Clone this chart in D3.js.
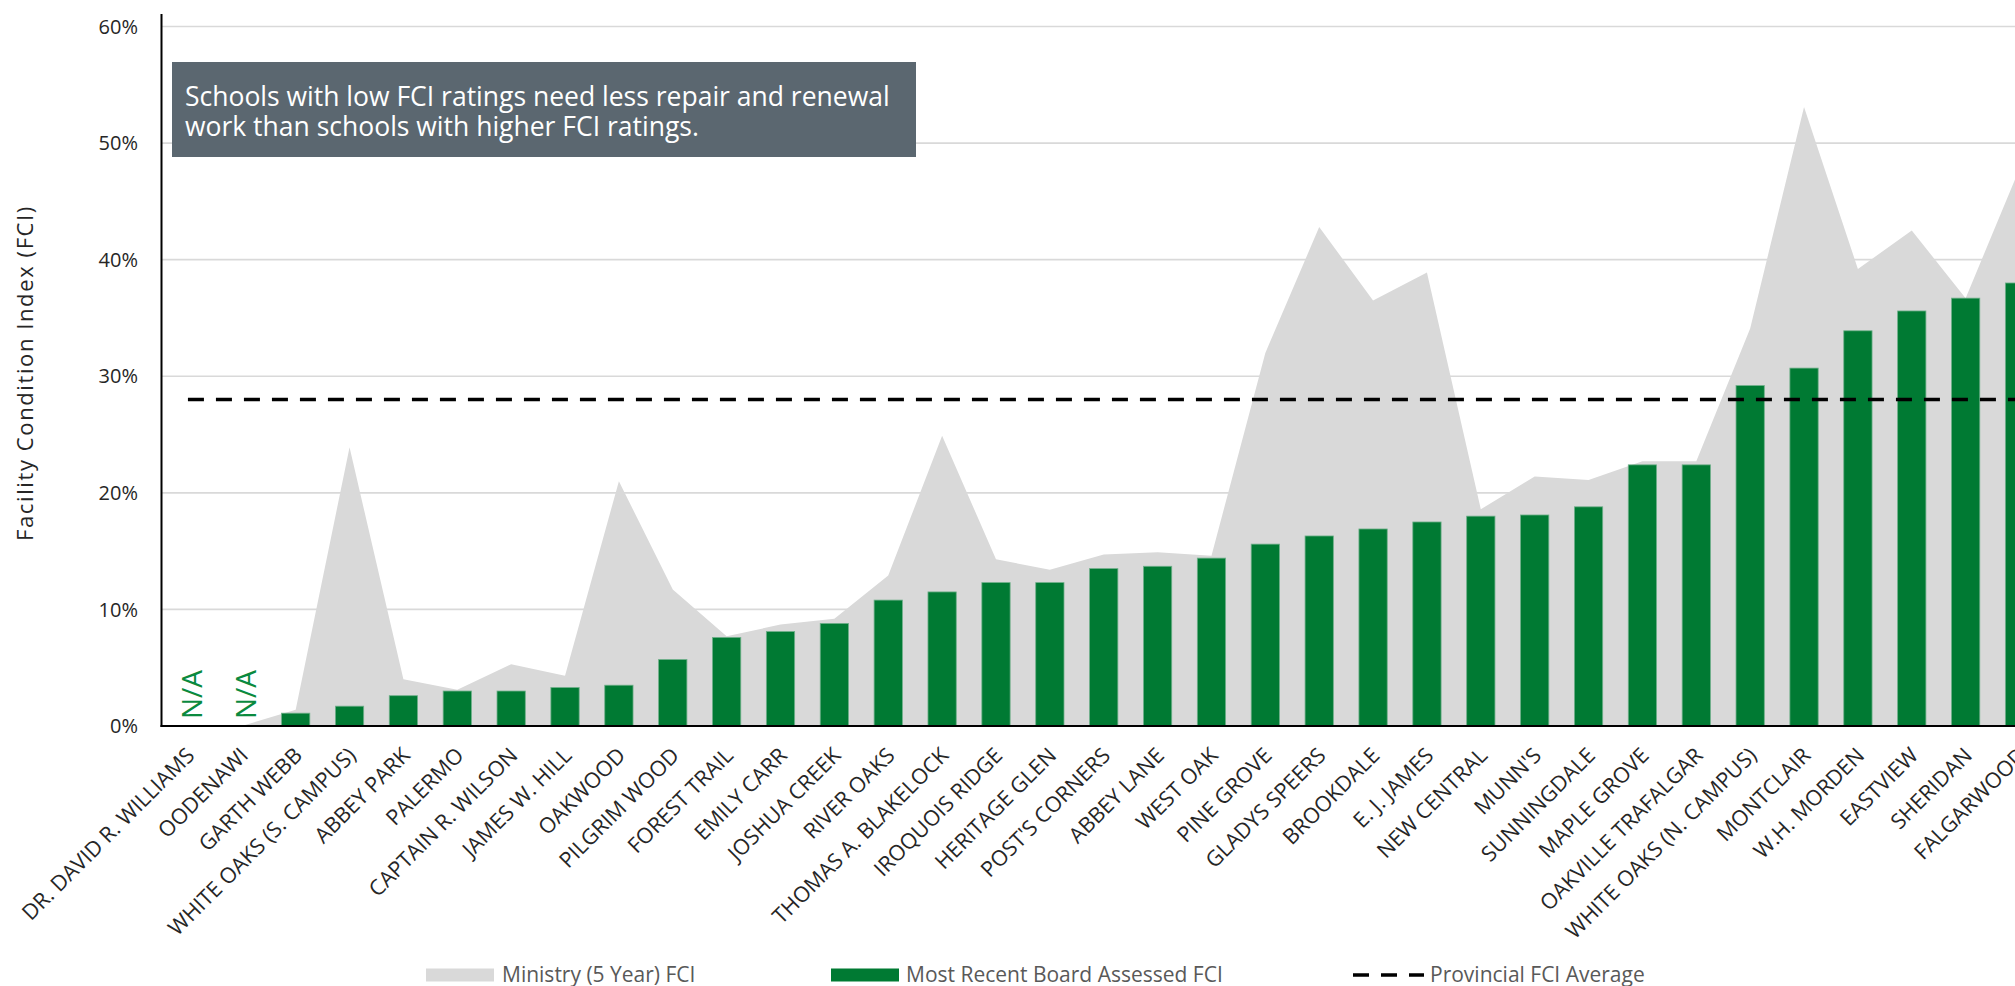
<!DOCTYPE html>
<html>
<head>
<meta charset="utf-8">
<script src="https://cdn.jsdelivr.net/npm/d3@7/dist/d3.min.js"></script>
<style>
  html, body { margin: 0; padding: 0; background: #fff; }
  svg { display: block; font-family: "Open Sans", sans-serif; }
</style>
</head>
<body>
<svg id="chart" width="2015" height="986"></svg>
<script>
// ---------------- DATA ----------------
const schools = [
  "DR. DAVID R. WILLIAMS", "OODENAWI", "GARTH WEBB", "WHITE OAKS (S. CAMPUS)", "ABBEY PARK",
  "PALERMO", "CAPTAIN R. WILSON", "JAMES W. HILL", "OAKWOOD", "PILGRIM WOOD",
  "FOREST TRAIL", "EMILY CARR", "JOSHUA CREEK", "RIVER OAKS", "THOMAS A. BLAKELOCK",
  "IROQUOIS RIDGE", "HERITAGE GLEN", "POST'S CORNERS", "ABBEY LANE", "WEST OAK",
  "PINE GROVE", "GLADYS SPEERS", "BROOKDALE", "E. J. JAMES", "NEW CENTRAL",
  "MUNN'S", "SUNNINGDALE", "MAPLE GROVE", "OAKVILLE TRAFALGAR", "WHITE OAKS (N. CAMPUS)",
  "MONTCLAIR", "W.H. MORDEN", "EASTVIEW", "SHERIDAN", "FALGARWOOD"
];
// Ministry (5 Year) FCI, percent (null = not available, plotted as zero like the source)
const ministryFCI = [
  null, null, 1.4, 23.9, 4.0,
  3.1, 5.3, 4.3, 21.0, 11.7,
  7.7, 8.7, 9.2, 12.9, 24.9,
  14.3, 13.4, 14.7, 14.9, 14.6,
  32.0, 42.8, 36.5, 38.9, 18.6,
  21.4, 21.1, 22.7, 22.7, 34.1,
  53.1, 39.2, 42.5, 36.7, 47.8
];
// Most Recent Board Assessed FCI, percent (null = N/A)
const boardFCI = [
  null, null, 1.1, 1.7, 2.6,
  3.0, 3.0, 3.3, 3.5, 5.7,
  7.6, 8.1, 8.8, 10.8, 11.5,
  12.3, 12.3, 13.5, 13.7, 14.4,
  15.6, 16.3, 16.9, 17.5, 18.0,
  18.1, 18.8, 22.4, 22.4, 29.2,
  30.7, 33.9, 35.6, 36.7, 38.0
];
const provincialAverage = 28;
const yTicks = [0, 10, 20, 30, 40, 50, 60];
const legendLabels = ["Ministry (5 Year) FCI", "Most Recent Board Assessed FCI", "Provincial FCI Average"];
const yAxisTitle = "Facility Condition Index (FCI)";
const noteLines = [
  "Schools with low FCI ratings need less repair and renewal",
  "work than schools with higher FCI ratings."
];
const naLabel = "N/A";

// ---------------- STYLE ----------------
const GREEN = "#007a33";
const GREY_AREA = "#d9d9d9";
const GRID = "#d9d9d9";
const NOTE_BG = "#5b6770";

const svg = d3.select("#chart");

const x = d3.scaleBand()
  .domain(schools)
  .range([161, 161 + 53.87 * schools.length])
  .paddingInner(0.475)
  .paddingOuter(0.2375);
const cx = d => x(d) + x.bandwidth() / 2;

const y = d3.scaleLinear().domain([0, 60]).range([726, 26.5]);

const rows = schools.map((s, i) => ({ school: s, ministry: ministryFCI[i], board: boardFCI[i] }));

// Gridlines
svg.append("g")
  .selectAll("line")
  .data(yTicks.filter(t => t > 0))
  .join("line")
  .attr("x1", 162).attr("x2", 2015)
  .attr("y1", d => y(d)).attr("y2", d => y(d))
  .attr("stroke", GRID).attr("stroke-width", 1.6);

// Ministry area
const area = d3.area()
  .x(d => cx(d.school))
  .y0(y(0))
  .y1(d => y(d.ministry == null ? 0 : d.ministry));
svg.append("path")
  .datum(rows)
  .attr("d", area)
  .attr("fill", GREY_AREA);

// Board bars
svg.append("g")
  .selectAll("rect")
  .data(rows.filter(d => d.board != null))
  .join("rect")
  .attr("x", d => x(d.school))
  .attr("width", x.bandwidth())
  .attr("y", d => y(d.board))
  .attr("height", d => y(0) - y(d.board))
  .attr("fill", GREEN)
  .attr("stroke", "#6fb08a")
  .attr("stroke-width", 0.8);

// N/A labels
svg.append("g")
  .selectAll("text")
  .data(rows.filter(d => d.board == null))
  .join("text")
  .attr("transform", d => `translate(${cx(d.school) + 14},${y(0) - 7}) rotate(-90)`)
  .attr("text-anchor", "start")
  .attr("font-size", 28)
  .attr("fill", "#0a8a3e")
  .text(naLabel);

// Provincial average dashed line
const avgLine = d3.line()
  .x(d => cx(d))
  .y(() => y(provincialAverage));
svg.append("path")
  .datum([schools[0], schools[schools.length - 1]])
  .attr("d", avgLine)
  .attr("fill", "none")
  .attr("stroke", "#000")
  .attr("stroke-width", 3.6)
  .attr("stroke-dasharray", "16,12");

// Axes lines
svg.append("line")
  .attr("x1", 161.5).attr("x2", 161.5)
  .attr("y1", 14).attr("y2", y(0) + 1)
  .attr("stroke", "#000").attr("stroke-width", 2);
svg.append("line")
  .attr("x1", 160.5).attr("x2", 2015)
  .attr("y1", y(0)).attr("y2", y(0))
  .attr("stroke", "#000").attr("stroke-width", 2.2);

// Y tick labels
svg.append("g")
  .selectAll("text")
  .data(yTicks)
  .join("text")
  .attr("x", 138)
  .attr("y", d => y(d))
  .attr("dy", "0.36em")
  .attr("text-anchor", "end")
  .attr("font-size", 20)
  .attr("fill", "#262626")
  .text(d => d + "%");

// Y axis title
svg.append("text")
  .attr("transform", "translate(33,373) rotate(-90)")
  .attr("text-anchor", "middle")
  .attr("font-size", 22)
  .attr("letter-spacing", 1.6)
  .attr("fill", "#262626")
  .text(yAxisTitle);

// X category labels
svg.append("g")
  .selectAll("text")
  .data(schools)
  .join("text")
  .attr("transform", d => `translate(${cx(d) - 3},${746}) rotate(-45)`)
  .attr("text-anchor", "end")
  .attr("dy", "0.71em")
  .attr("font-size", 21.5)
  .attr("fill", "#262626")
  .text(d => d);

// Note box
const note = svg.append("g");
note.append("rect")
  .attr("x", 172).attr("y", 62)
  .attr("width", 744).attr("height", 95)
  .attr("fill", NOTE_BG);
note.selectAll("text")
  .data(noteLines)
  .join("text")
  .attr("x", 185)
  .attr("y", (d, i) => 105.5 + i * 30.5)
  .attr("font-size", 26.5)
  .attr("fill", "#ffffff")
  .text(d => d);

// Legend
const lg = svg.append("g").attr("font-size", 21).attr("fill", "#595959");
lg.append("rect").attr("x", 426).attr("y", 968.5).attr("width", 68).attr("height", 13).attr("fill", GREY_AREA);
lg.append("text").attr("x", 502).attr("y", 981.5).text(legendLabels[0]);
lg.append("rect").attr("x", 831).attr("y", 968.5).attr("width", 68).attr("height", 13).attr("fill", GREEN);
lg.append("text").attr("x", 906).attr("y", 981.5).text(legendLabels[1]);
lg.append("line").attr("x1", 1353).attr("x2", 1424).attr("y1", 975).attr("y2", 975)
  .attr("stroke", "#000").attr("stroke-width", 3.6).attr("stroke-dasharray", "16,12");
lg.append("text").attr("x", 1430).attr("y", 981.5).text(legendLabels[2]);
</script>
</body>
</html>
